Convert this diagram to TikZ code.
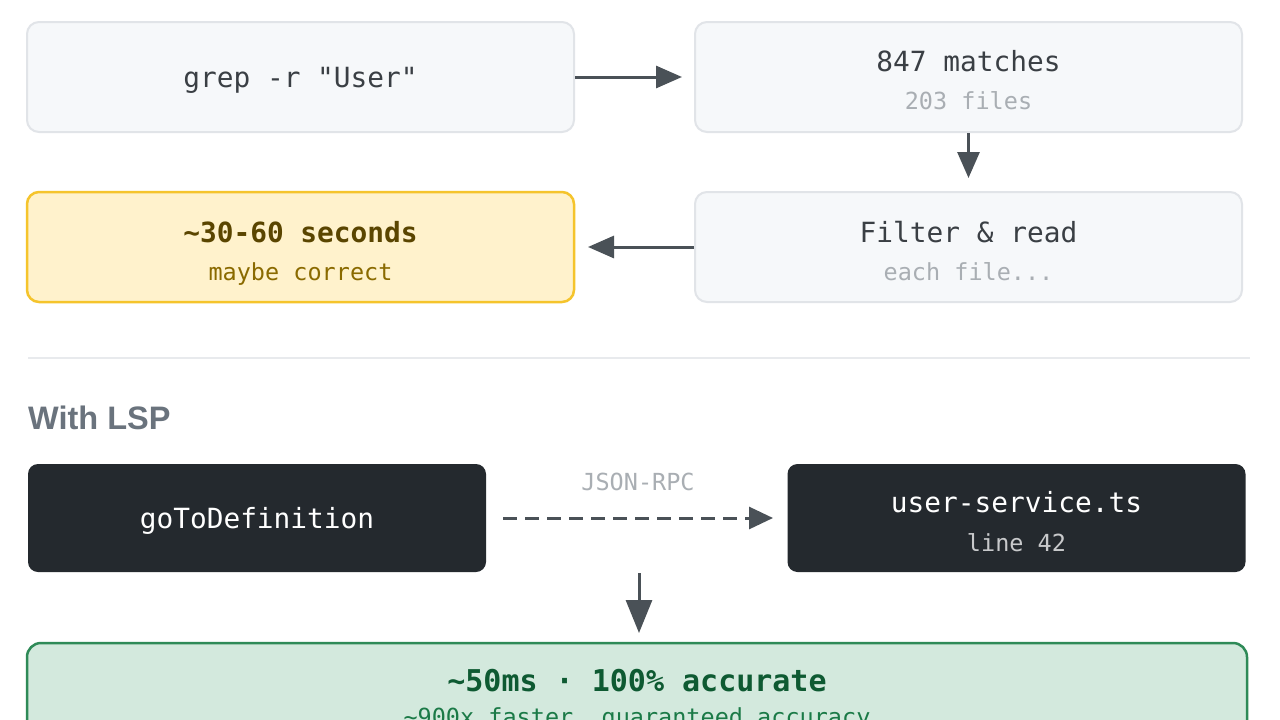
\documentclass[tikz,border=0pt]{standalone}
\usepackage{fontspec}
\setmonofont{DejaVu Sans Mono}
\newfontfamily\headfont{Liberation Sans}
\usetikzlibrary{arrows.meta}
\definecolor{boxfill}{HTML}{F6F8FA}
\definecolor{boxline}{HTML}{E1E4E8}
\definecolor{maintext}{HTML}{3A3F44}
\definecolor{subtext}{HTML}{A9AEB3}
\definecolor{yelfill}{HTML}{FFF2CC}
\definecolor{yelline}{HTML}{F5C42C}
\definecolor{yeltext}{HTML}{5A4500}
\definecolor{yelsub}{HTML}{8A6A00}
\definecolor{darkfill}{HTML}{24292E}
\definecolor{arrowcol}{HTML}{4A5157}
\definecolor{sepline}{HTML}{E8EAED}
\definecolor{headcol}{HTML}{6A737D}
\definecolor{grnfill}{HTML}{D3E9DD}
\definecolor{grnline}{HTML}{2E8A57}
\definecolor{grntext}{HTML}{0E5A32}
\definecolor{grnsub}{HTML}{1B7A47}
\newcommand{\mainsz}{\ttfamily\fontsize{27.8}{32}\selectfont}
\newcommand{\subsz}{\ttfamily\fontsize{23.5}{28}\selectfont}
\tikzset{
  lightbox/.style={draw=boxline, fill=boxfill, line width=2pt, rounded corners=12pt, minimum width=547pt, minimum height=110pt, inner sep=0pt},
  yelbox/.style={draw=yelline, fill=yelfill, line width=2.5pt, rounded corners=12pt, minimum width=547pt, minimum height=110pt, inner sep=0pt},
  darkbox/.style={fill=darkfill, rounded corners=10pt, minimum width=458pt, minimum height=108pt, inner sep=0pt, text=white, font=\mainsz},
  grnbox/.style={draw=grnline, fill=grnfill, line width=2.5pt, rounded corners=14pt, inner sep=0pt},
  maintxt/.style={font=\mainsz, text=maintext, inner sep=0pt, anchor=base},
  subtxt/.style={font=\subsz, text=subtext, inner sep=0pt, anchor=base},
  flow/.style={draw=arrowcol, line width=3pt, -{Triangle[length=26pt,width=22pt]}},
}
\begin{document}
\begin{tikzpicture}[x=1pt,y=-1pt]
\useasboundingbox (0,0) rectangle (1280,720);
\clip (0,0) rectangle (1280,720);
\fill[white] (0,0) rectangle (1280,720);
% top section
\node[lightbox] (grep) at (300.5,77) {};
\node[maintxt] (grep-t) at (300.5,87) {grep -r "User"};
\node[lightbox] (matches) at (968.5,77) {};
\node[maintxt] (matches-t) at (968.5,71) {847 matches};
\node[subtxt] (matches-s) at (968.5,109) {203 files};
\node[lightbox] (filter) at (968.5,247) {};
\node[maintxt] (filter-t) at (968.5,242) {Filter \& read};
\node[subtxt] (filter-s) at (968.5,280) {each file...};
\node[yelbox] (slow) at (300.5,247) {};
\node[maintxt, text=yeltext, font=\mainsz\bfseries] (slow-t) at (300.5,242) {\textasciitilde 30-60 seconds};
\node[subtxt, text=yelsub] (slow-s) at (300.5,280) {maybe correct};
\coordinate (a1e) at (682,77);
\draw[flow] (grep.east) -- (a1e);
\coordinate (a2e) at (968.5,178);
\draw[flow] (matches.south) -- (a2e);
\coordinate (a3e) at (588,247);
\draw[flow] (filter.west) -- (a3e);
% separator
\coordinate (sepL) at (28,358);
\coordinate (sepR) at (1250,358);
\draw[sepline, line width=2pt] (sepL) -- (sepR);
\node[anchor=base west, inner sep=0pt, font=\headfont\bfseries\fontsize{32.5}{38}\selectfont, text=headcol] (head) at (28,429) {With LSP};
% LSP section
\node[darkbox] (goto) at (257,518) {};
\node[maintxt, text=white] (goto-t) at (257,528) {goToDefinition};
\node[darkbox] (svc) at (1016.5,518) {};
\node[maintxt, text=white] (svc-t) at (1016.5,512) {user-service.ts};
\node[subtxt, text=white!75!darkfill] (svc-s) at (1016.5,551) {line 42};
\node[subtxt] (rpc) at (638,490) {JSON-RPC};
\coordinate (dS) at (503,518);
\coordinate (dE) at (773,518);
\draw[flow, dash pattern=on 14pt off 8pt, -{Triangle[length=24pt,width=22pt]}] (dS) -- (dE);
\coordinate (vS) at (639,573);
\coordinate (vE) at (639,633);
\draw[flow, -{Triangle[length=33pt,width=26pt]}] (vS) -- (vE);
\draw[grnbox] (27,643) rectangle (1247,780);
\node[maintxt, text=grntext, font=\ttfamily\bfseries\fontsize{30}{34}\selectfont] (fast-t) at (637,691) {\textasciitilde 50ms · 100\% accurate};
\node[subtxt, text=grnsub] (fast-s) at (637,725) {\textasciitilde 900x faster, guaranteed accuracy};
\end{tikzpicture}
\end{document}
